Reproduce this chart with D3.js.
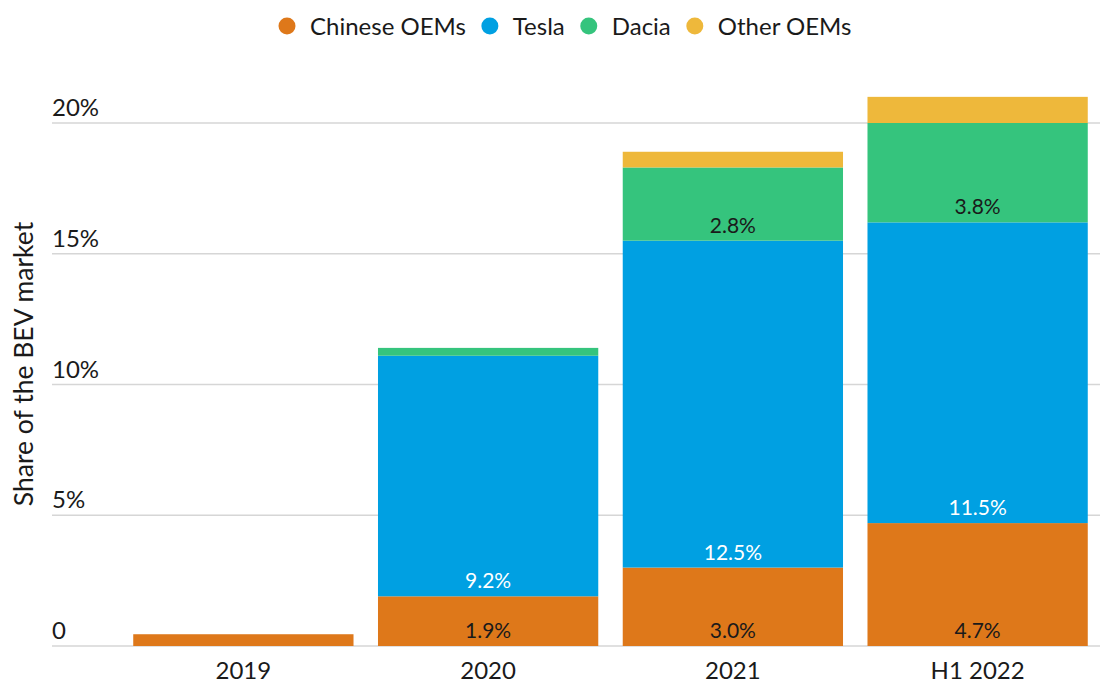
<!DOCTYPE html>
<html>
<head>
<meta charset="utf-8">
<script src="https://cdn.jsdelivr.net/npm/d3@7"></script>
<style>
  body { margin: 0; background: #fff; }
  svg text { font-family: "Lato", "Noto Sans", sans-serif; }
</style>
</head>
<body>
<div id="chart"></div>
<script>
// data
var periods = ["2019", "2020", "2021", "H1 2022"];
var seriesNames = ["Chinese OEMs", "Tesla", "Dacia", "Other OEMs"];
var seriesColors = ["#de781a", "#00a0e2", "#35c47d", "#eeb83b"];
var chineseOEMs = [0.45, 1.9, 3.0, 4.7];
var tesla = [0, 9.2, 12.5, 11.5];
var dacia = [0, 0.3, 2.8, 3.8];
var otherOEMs = [0, 0, 0.6, 1.0];
// which segments get a value label (and label colour)
var labelShown = [[false, true, true, true], [false, true, true, true], [false, false, true, true], [false, false, false, false]];
var labelColors = ["#1a1a1a", "#ffffff", "#1a1a1a", "#1a1a1a"];
var yTicks = [0, 5, 10, 15, 20];

var width = 1100, height = 684;
var svg = d3.select("#chart").append("svg")
    .attr("width", width)
    .attr("height", height);

var rows = periods.map(function (p, i) {
    return { period: p, "Chinese OEMs": chineseOEMs[i], "Tesla": tesla[i], "Dacia": dacia[i], "Other OEMs": otherOEMs[i] };
});
var stacked = d3.stack().keys(seriesNames)(rows);

var x = d3.scaleBand()
    .domain(periods)
    .range([121, 1100])
    .paddingInner(0.1)
    .paddingOuter(0.05);

var y = d3.scaleLinear()
    .domain([0, 20])
    .range([646, 123]);

// gridlines + tick labels
var grid = svg.append("g");
grid.selectAll("line")
    .data(yTicks)
    .join("line")
    .attr("x1", 52)
    .attr("x2", 1100)
    .attr("y1", function (d) { return y(d); })
    .attr("y2", function (d) { return y(d); })
    .attr("stroke", "#d6d6d6")
    .attr("stroke-width", 1.5);

grid.selectAll("text")
    .data(yTicks)
    .join("text")
    .attr("x", 52)
    .attr("y", function (d) { return y(d) - 7; })
    .attr("font-size", "24px")
    .attr("fill", "#1a1a1a")
    .text(function (d) { return d === 0 ? "0" : d + "%"; });

// y axis title
svg.append("text")
    .attr("transform", "translate(33,364) rotate(-90)")
    .attr("text-anchor", "middle")
    .attr("font-size", "26.5px")
    .attr("fill", "#1a1a1a")
    .text("Share of the BEV market");

// bars
var layers = svg.selectAll("g.layer")
    .data(stacked)
    .join("g")
    .attr("class", "layer")
    .attr("fill", function (d, i) { return seriesColors[i]; });

layers.selectAll("rect")
    .data(function (d) { return d; })
    .join("rect")
    .attr("x", function (d) { return x(d.data.period); })
    .attr("width", x.bandwidth())
    .attr("y", function (d) { return y(d[1]); })
    .attr("height", function (d) { return y(d[0]) - y(d[1]); });

// value labels at base of each segment
stacked.forEach(function (layer, si) {
    svg.append("g").selectAll("text")
        .data(layer.filter(function (d, i) { return labelShown[si][i]; }))
        .join("text")
        .attr("x", function (d) { return x(d.data.period) + x.bandwidth() / 2; })
        .attr("y", function (d) { return y(d[0]) - 8; })
        .attr("text-anchor", "middle")
        .attr("font-size", "21px")
        .attr("fill", labelColors[si])
        .text(function (d) { return (d[1] - d[0]).toFixed(1) + "%"; });
});

// x axis labels
svg.append("g").selectAll("text")
    .data(periods)
    .join("text")
    .attr("x", function (d) { return x(d) + x.bandwidth() / 2; })
    .attr("y", 679)
    .attr("text-anchor", "middle")
    .attr("font-size", "24px")
    .attr("fill", "#1a1a1a")
    .text(function (d) { return d; });

// legend, laid out left to right from measured text widths
var legend = svg.append("g");
var cx = 287;
seriesNames.forEach(function (name, i) {
    legend.append("circle")
        .attr("cx", cx)
        .attr("cy", 26)
        .attr("r", 8.5)
        .attr("fill", seriesColors[i]);
    var t = legend.append("text")
        .attr("x", cx + 23)
        .attr("y", 35)
        .attr("font-size", "24px")
        .attr("fill", "#1a1a1a")
        .text(name);
    cx = cx + 23 + t.node().getComputedTextLength() + 24;
});
</script>
</body>
</html>
